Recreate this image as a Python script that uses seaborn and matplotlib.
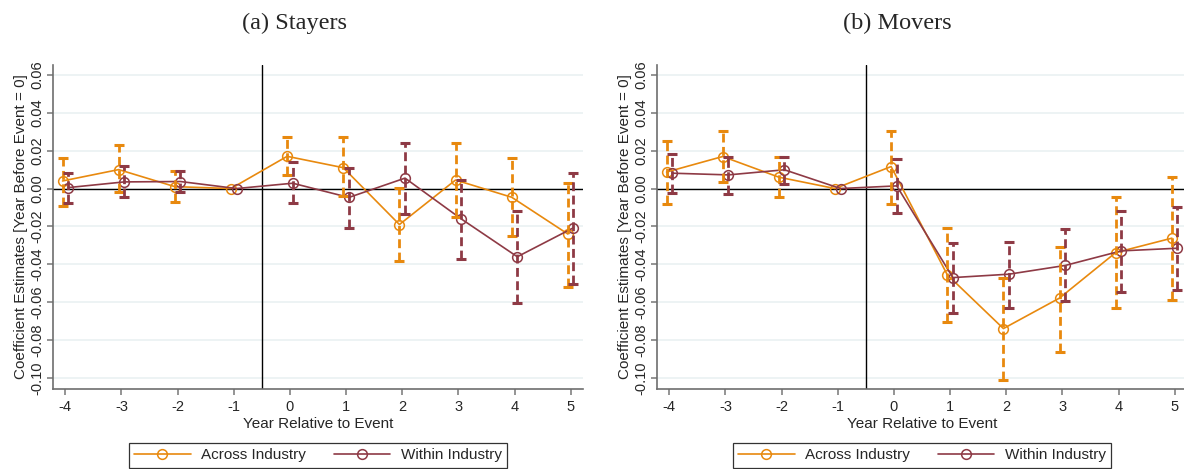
import numpy as np
import pandas as pd
import seaborn as sns
import matplotlib.pyplot as plt
from matplotlib.ticker import FormatStrFormatter
from matplotlib.lines import Line2D

years = [-4, -3, -2, -1, 0, 1, 2, 3, 4, 5]

# (a) Stayers
stay_across = [0.004, 0.010, 0.001, 0.0, 0.017, 0.011, -0.019, 0.0045, -0.0046, -0.024]
stay_across_hi = [0.016, 0.023, 0.009, np.nan, 0.027, 0.027, 0.0002, 0.024, 0.016, 0.003]
stay_across_lo = [-0.009, -0.002, -0.007, np.nan, 0.007, -0.004, -0.038, -0.015, -0.025, -0.052]
stay_within = [0.0005, 0.0035, 0.0037, 0.0, 0.0028, -0.0047, 0.0055, -0.016, -0.036, -0.0207]
stay_within_hi = [0.008, 0.012, 0.009, np.nan, 0.014, 0.011, 0.024, 0.0046, -0.012, 0.008]
stay_within_lo = [-0.0077, -0.0045, -0.002, np.nan, -0.0077, -0.021, -0.0134, -0.037, -0.0605, -0.0505]

# (b) Movers
move_across = [0.0087, 0.0169, 0.006, 0.0, 0.0116, -0.0455, -0.0739, -0.0578, -0.0338, -0.0262]
move_across_hi = [0.0252, 0.0305, 0.0164, np.nan, 0.0305, -0.0209, -0.0473, -0.0306, -0.0047, 0.006]
move_across_lo = [-0.0081, 0.0032, -0.0045, np.nan, -0.0081, -0.0707, -0.101, -0.0863, -0.0631, -0.0587]
move_within = [0.0081, 0.0072, 0.0099, 0.0, 0.0014, -0.047, -0.0452, -0.0406, -0.0329, -0.0315]
move_within_hi = [0.0182, 0.0164, 0.0164, np.nan, 0.0155, -0.0285, -0.028, -0.0214, -0.0121, -0.0095]
move_within_lo = [-0.0024, -0.003, 0.0025, np.nan, -0.013, -0.0658, -0.0631, -0.0596, -0.0544, -0.0535]

series_names = ["Across Industry", "Within Industry"]
colors = {"Across Industry": "#E8890E", "Within Industry": "#8E3A45"}
offsets = {"Across Industry": -0.05, "Within Industry": 0.05}

sns.set_style("white")
plt.rcParams['font.family'] = ['Liberation Sans', 'DejaVu Sans']
plt.rcParams['axes.unicode_minus'] = False

fig = plt.figure(figsize=(11.84, 4.69), dpi=100)
ax1 = fig.add_axes([53/1184, 1 - 389/469, 530/1184, 324/469])
ax2 = fig.add_axes([657/1184, 1 - 389/469, 530/1184, 324/469])

panels = [
    (ax1, "(a) Stayers", 295,
     {"Across Industry": (stay_across, stay_across_lo, stay_across_hi),
      "Within Industry": (stay_within, stay_within_lo, stay_within_hi)}),
    (ax2, "(b) Movers", 897,
     {"Across Industry": (move_across, move_across_lo, move_across_hi),
      "Within Industry": (move_within, move_within_lo, move_within_hi)}),
]

for ax, title, tx, data in panels:
    for y in np.arange(-0.10, 0.061, 0.02):
        ax.axhline(y, color="#EAF1F2", lw=1.2, zorder=0)
    ax.axhline(0, color="black", lw=1.0, zorder=1)
    ax.axvline(-0.5, color="black", lw=1.0, zorder=1)

    for name in series_names:
        coef, lo, hi = data[name]
        df = pd.DataFrame({"year": years, "coef": coef, "lo": lo, "hi": hi})
        df["x"] = df["year"] + offsets[name]
        c = colors[name]
        sns.lineplot(data=df, x="x", y="coef", ax=ax, color=c, lw=1.2,
                     marker="o", markersize=7, markerfacecolor="none",
                     markeredgecolor=c, markeredgewidth=1.1, zorder=3)
        ci = df.dropna()
        eb = ax.errorbar(ci["x"], (ci["lo"] + ci["hi"]) / 2,
                         yerr=(ci["hi"] - ci["lo"]) / 2, fmt="none",
                         ecolor=c, elinewidth=2.0, capsize=3.5, capthick=2.2,
                         zorder=4)
        eb[2][0].set_linestyle((0, (3.2, 1.6)))

    ax.set_xlim(-4.22, 5.22)
    ax.set_ylim(-0.1058, 0.0652)
    ax.set_xticks(years)
    ax.set_yticks(np.round(np.arange(-0.10, 0.061, 0.02), 2))
    ax.yaxis.set_major_formatter(FormatStrFormatter("%.2f"))
    ax.tick_params(axis="y", labelrotation=90, length=4, width=1.1,
                   color="#777777", labelsize=10.5, pad=2, left=True)
    ax.tick_params(axis="x", length=4, width=1.1, color="#777777",
                   labelsize=10.5, pad=4, bottom=True)
    for lab in ax.get_yticklabels():
        lab.set_va("center")
    for s in ["top", "right"]:
        ax.spines[s].set_visible(False)
    for s in ["left", "bottom"]:
        ax.spines[s].set_color("#6E6E6E")
        ax.spines[s].set_linewidth(1.2)
    ax.set_xlabel("Year Relative to Event", fontsize=11, labelpad=2)
    ax.set_ylabel("Coefficient Estimates [Year Before Event = 0]", fontsize=11, labelpad=2)

    handles = [Line2D([], [], color=colors[n], lw=1.2, marker="o", markersize=7,
                      markerfacecolor="none", markeredgecolor=colors[n],
                      markeredgewidth=1.1) for n in series_names]
    leg = ax.legend(handles, series_names, loc="center", ncol=2,
                    bbox_to_anchor=(0.5, -0.205), frameon=True, fancybox=False,
                    edgecolor="black", fontsize=11, handlelength=3.7,
                    handletextpad=0.7, columnspacing=1.8, borderpad=0.35)
    leg.get_frame().set_linewidth(0.9)

    fig.text(tx / 1184, 1 - 23 / 469, title, ha="center", va="center",
             fontsize=17.5, family="Liberation Serif")

fig.savefig("out.png", dpi=100)
